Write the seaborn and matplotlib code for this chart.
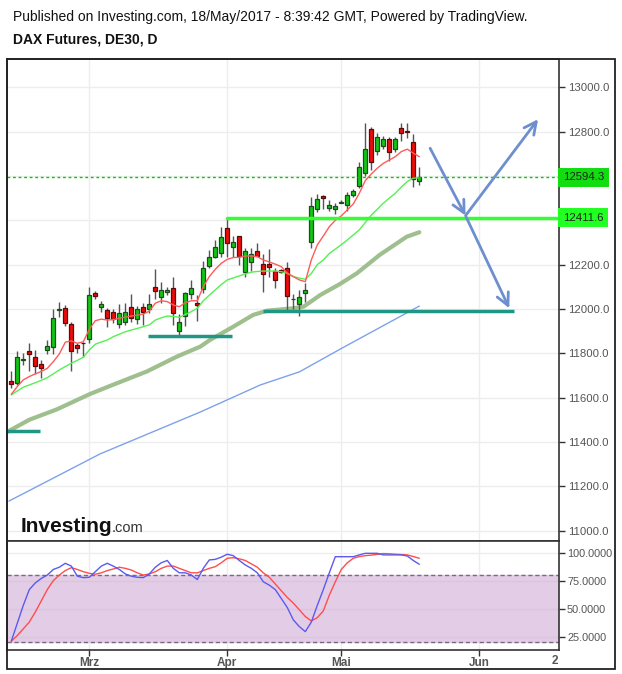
import matplotlib
matplotlib.use('Agg')
import matplotlib.pyplot as plt
import seaborn as sns
from matplotlib.patches import Rectangle
import matplotlib.transforms as mtransforms

# ---------------- data ----------------
opens = [11675, 11665, 11768, 11810, 11782, 11750, 11816, 11827, 11995, 12003,
         11932, 11838, 11848, 11863, 12071, 12008, 11995, 11988, 11932, 11943,
         12008, 11953, 12010, 11999, 12098, 12053, 12075, 12096, 11902, 11970,
         12066, 12026, 12089, 12195, 12233, 12251, 12364, 12281, 12329, 12166,
         12211, 12263, 12202, 12202, 12171, 12176, 12184, 12043, 12021, 12071,
         12304, 12451, 12510, 12457, 12451, 12479, 12469, 12514, 12556, 12612,
         12811, 12714, 12736, 12769, 12721, 12815, 12802, 12752, 12579]
highs = [11720, 11812, 11800, 11848, 11815, 11770, 11860, 11999, 12032, 12018,
         11940, 11848, 11852, 12100, 12081, 12037, 12005, 11999, 12021, 12026,
         12068, 12014, 12026, 12066, 12179, 12120, 12101, 12143, 11977, 12075,
         12131, 12063, 12217, 12266, 12311, 12371, 12417, 12329, 12330, 12274,
         12274, 12299, 12248, 12269, 12184, 12180, 12213, 12066, 12086, 12119,
         12507, 12519, 12514, 12492, 12477, 12492, 12529, 12542, 12665, 12841,
         12823, 12793, 12781, 12778, 12775, 12841, 12841, 12790, 12639]
lows = [11642, 11655, 11747, 11722, 11707, 11690, 11797, 11797, 11962, 11923,
        11722, 11803, 11782, 11845, 12045, 11988, 11920, 11935, 11916, 11928,
        11943, 11932, 11928, 11981, 12044, 12026, 12063, 11928, 11883, 11925,
        12044, 11947, 12071, 12184, 12229, 12236, 12236, 12236, 12199, 12146,
        12173, 12239, 12075, 12146, 12093, 12160, 11985, 11999, 11968, 12033,
        12277, 12439, 12450, 12444, 12429, 12477, 12444, 12504, 12545, 12602,
        12627, 12695, 12721, 12669, 12710, 12760, 12770, 12549, 12560]
closes = [11660, 11782, 11773, 11796, 11743, 11735, 11832, 11958, 11999, 11938,
          11812, 11825, 11845, 12063, 12059, 12021, 11958, 11953, 11981, 11985,
          11961, 11999, 11988, 12021, 12083, 12086, 12086, 11983, 11943, 12071,
          12093, 12019, 12184, 12233, 12281, 12326, 12297, 12304, 12241, 12263,
          12247, 12241, 12157, 12188, 12131, 12166, 12059, 12046, 12056, 12086,
          12466, 12496, 12500, 12468, 12466, 12482, 12513, 12533, 12639, 12721,
          12662, 12775, 12766, 12706, 12766, 12793, 12800, 12585, 12594]

ma_red = [11615, 11650, 11680, 11695, 11707, 11718, 11732, 11762, 11797, 11850,
          11856, 11845, 11852, 11908, 11947, 11954, 11950, 11952, 11958, 11963,
          11968, 11972, 11977, 11990, 12026, 12037, 12033, 12018, 12010, 12028,
          12037, 12037, 12101, 12146, 12179, 12206, 12224, 12232, 12233, 12239,
          12239, 12236, 12221, 12212, 12202, 12191, 12161, 12146, 12131, 12123,
          12221, 12289, 12329, 12371, 12400, 12420, 12447, 12474, 12522, 12579,
          12609, 12635, 12657, 12672, 12687, 12710, 12721, 12703, 12687]
ma_green = [11612, 11630, 11647, 11657, 11667, 11678, 11690, 11707, 11725, 11740,
            11755, 11768, 11782, 11815, 11841, 11851, 11860, 11875, 11886, 11897,
            11905, 11912, 11920, 11928, 11950, 11960, 11968, 11966, 11962, 11975,
            11988, 12003, 12037, 12062, 12086, 12110, 12131, 12140, 12149, 12158,
            12166, 12169, 12171, 12171, 12171, 12168, 12161, 12146, 12139, 12134,
            12160, 12200, 12221, 12250, 12270, 12290, 12311, 12334, 12357, 12390,
            12424, 12450, 12477, 12500, 12522, 12550, 12575, 12590, 12592]
ma_olive_x = [-0.7, 3, 7.6, 13.1, 16.4, 22.6, 27.6, 31.5, 33.1, 37, 40.3, 42.6,
              47, 48.7, 51.5, 54.8, 57.6, 61.4, 65.9, 68]
ma_olive = [11445, 11500, 11547, 11616, 11652, 11718, 11785, 11830, 11860, 11920,
            11973, 11992, 12003, 12010, 12063, 12113, 12161, 12244, 12326, 12346]
ma_blue_x = [-0.4, 14.8, 31.5, 41.5, 48, 55.3, 68]
ma_blue = [11133, 11346, 11535, 11657, 11716, 11826, 12013]

stoch_k = [21, 37, 53, 67, 73, 77, 80, 85, 87, 90.5, 88, 79, 77.7, 78, 83, 88, 90.5,
           88, 85, 81, 79, 78, 77.7, 81, 87, 91, 93, 86, 82, 82, 80, 76, 86, 93.5,
           94, 96, 98.6, 97.3, 93, 89, 86, 82, 74, 71, 67, 59, 51, 40, 34, 29.5,
           38, 53, 67, 82, 96.4, 96.4, 96.4, 96.4, 98, 99.4, 99.4, 99.4, 98, 98,
           98, 98, 97, 93, 89.6]
stoch_d = [21, 26, 32, 38, 47, 57, 67, 75, 80, 84, 86.6, 85, 83, 81.6, 80.7, 82, 84,
           85.4, 87, 86, 84.5, 82, 80, 81, 83, 86, 88, 88, 86, 84, 82, 82, 84, 86,
           87.5, 91, 95, 95.5, 94.5, 93, 90, 87, 82, 78, 72, 66, 60, 55, 49, 43,
           39, 42, 48, 62, 74, 85, 91, 95, 96.5, 97.3, 97.8, 98.5, 99.2, 99, 98.6,
           98.3, 98, 96.5, 95]

price_grid = [11000, 11200, 11400, 11600, 11800, 12000, 12200, 12400, 12600, 12800, 13000]
price_ticks = [11000, 11200, 11400, 11600, 11800, 12000, 12200, 12800, 13000]
osc_ticks = [25, 50, 75, 100]
month_pos = [13, 36, 55, 78]
month_labels = ['Mrz', 'Apr', 'Mai', 'Jun']
last_price = 12594.3
resist_price = 12411.6
support_lines = [(-0.8, 4.8, 11450), (22.8, 36.8, 11877), (41.9, 83.8, 11992)]
arrows = [((69.8, 12725), (75.7, 12421)), ((75.7, 12421), (87.8, 12856)),
          ((75.8, 12415), (83.0, 12003))]

# ---------------- figure ----------------
sns.set_theme(style='white')
plt.rcParams['font.family'] = ['Liberation Sans', 'DejaVu Sans']

W, H = 622, 674
fig = plt.figure(figsize=(W / 100, H / 100), dpi=100)


def fx(px):
    return px / W


def fy(py):
    return 1 - py / H


L, R = 6.5, 558.7
ax = fig.add_axes([fx(L), fy(541), fx(R) - fx(L), fy(58.5) - fy(541)])
ax2 = fig.add_axes([fx(L), fy(650), fx(R) - fx(L), fy(541) - fy(650)])

xlim = (-0.8, 91.23)
ax.set_xlim(*xlim)
ax.set_ylim(10953, 13130)
ax2.set_xlim(*xlim)
ax2.set_ylim(13.1, 110.4)

grid_c = '#ededed'
for p in price_grid:
    ax.axhline(p, color=grid_c, lw=1, zorder=0)
for m in month_pos:
    ax.axvline(m, color=grid_c, lw=1, zorder=0)
    ax2.axvline(m, color=grid_c, lw=1, zorder=0)

# candles
for i, (o, h, l, c) in enumerate(zip(opens, highs, lows, closes)):
    ax.vlines(i, l, h, color='#555555', lw=1, zorder=3)
    up = c >= o
    fill = '#10c810' if up else '#f00a0a'
    edge = '#1f4a1f' if up else '#5a0c0c'
    ax.bar(i, max(abs(c - o), 3), bottom=min(o, c), width=0.68, color=fill,
           edgecolor=edge, linewidth=0.9, zorder=4)

# moving averages
idx = list(range(len(closes)))
sns.lineplot(x=ma_blue_x, y=ma_blue, ax=ax, color='#7ea2ea', lw=1, zorder=2)
sns.lineplot(x=ma_olive_x, y=ma_olive, ax=ax, color='#9fbf8e', lw=3, zorder=2)
sns.lineplot(x=idx, y=ma_green, ax=ax, color='#55f055', lw=1, zorder=5)
sns.lineplot(x=idx, y=ma_red, ax=ax, color='#ff5a5a', lw=1, zorder=5)

# horizontal levels
for x0, x1, p in support_lines:
    ax.plot([x0, x1], [p, p], color='#1f9784', lw=2.5, solid_capstyle='butt', zorder=6)
ax.plot([35.9, xlim[1]], [resist_price, resist_price], color='#33ff33', lw=2.5, zorder=6)
ax.axhline(last_price, color='#00cc00', lw=1, ls=(0, (2, 2)), zorder=6)

for (x0, y0), (x1, y1) in arrows:
    ax.annotate('', xy=(x1, y1), xytext=(x0, y0),
                arrowprops=dict(arrowstyle='->', color='#6d8fd0', lw=2,
                                mutation_scale=22, shrinkA=0, shrinkB=0), zorder=7)

# y axis (right)
ax.yaxis.tick_right()
ax.set_yticks(price_ticks)
ax.set_yticklabels([f'{p:.1f}' for p in price_ticks])
ax.tick_params(axis='y', direction='out', length=4, width=1, color='#333333',
               labelsize=8.2, labelcolor='#555555', pad=2.5, right=True, left=False)
ax.set_xticks([])

trans = mtransforms.blended_transform_factory(ax.transAxes, ax.transData)
for p, bg in [(last_price, '#11dd11'), (resist_price, '#22ff22')]:
    ax.text(1.0 + 4 / (R - L), p, f'{p:.1f}', transform=trans, va='center',
            ha='left', fontsize=8.2, color='#222222',
            bbox=dict(boxstyle='square,pad=0.4', fc=bg, ec='none'), zorder=8)

for s in ax.spines.values():
    s.set_color('#333333')
    s.set_linewidth(1.2)

# oscillator panel
ax2.axhspan(20, 80, color='#e3cde6', zorder=0)
for v in osc_ticks:
    ax2.axhline(v, color='#d9c6dc' if v < 80 else grid_c, lw=1, zorder=1)
ax2.axhline(80, color='#7a6a7e', lw=1, ls=(0, (3, 2)), zorder=2)
ax2.axhline(20, color='#7a6a7e', lw=1, ls=(0, (3, 2)), zorder=2)
sns.lineplot(x=idx, y=stoch_d, ax=ax2, color='#ff4d4d', lw=1, zorder=3)
sns.lineplot(x=idx, y=stoch_k, ax=ax2, color='#5a5af0', lw=1, zorder=4)

ax2.yaxis.tick_right()
ax2.set_yticks(osc_ticks)
ax2.set_yticklabels([f'{v:.4f}' for v in osc_ticks])
ax2.tick_params(axis='y', direction='out', length=4, width=1, color='#333333',
                labelsize=7.8, labelcolor='#555555', pad=2, right=True, left=False)
ax2.set_xticks(month_pos)
ax2.set_xticklabels(month_labels, fontweight='bold')
ax2.tick_params(axis='x', direction='out', length=4, width=1, color='#333333',
                labelsize=8.5, labelcolor='#555555', pad=1, bottom=True)
fig.text(fx(558), fy(661), '2', ha='right', va='center', fontsize=8.5,
         fontweight='bold', color='#555555')
for s in ax2.spines.values():
    s.set_color('#333333')
    s.set_linewidth(1.2)

# outer frame
fig.patches.append(Rectangle((fx(L), fy(669)), fx(615) - fx(L), fy(58.5) - fy(669),
                             transform=fig.transFigure, fill=False, ec='#222222', lw=1.3))

# header texts
fig.text(fx(13), fy(17), 'Published on Investing.com, 18/May/2017 - 8:39:42 GMT, Powered by TradingView.',
         fontsize=10, va='center', ha='left', color='#111111')
fig.text(fx(13), fy(40), 'DAX Futures, DE30, D', fontsize=10, fontweight='bold',
         va='center', ha='left', color='#111111')

# logo
fig.text(fx(21), fy(532), 'Investing', fontsize=15, fontweight='bold', va='baseline',
         ha='left', color='#111111')
fig.text(fx(112), fy(532), '.com', fontsize=10.5, va='baseline', ha='left', color='#333333')

fig.savefig('out.png', dpi=100, facecolor='white')
